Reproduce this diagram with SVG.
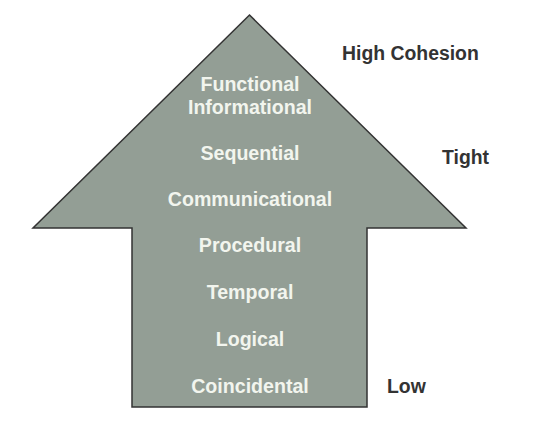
<svg xmlns="http://www.w3.org/2000/svg" width="546" height="436" viewBox="0 0 546 436">
<style>
.arrow{fill:#939e95;stroke:#333;stroke-width:1.5;stroke-linejoin:miter}
.in{font-family:"Liberation Sans",Arial,sans-serif;font-weight:bold;font-size:19.6px;fill:#f2f5ee;text-anchor:middle}
.out{font-family:"Liberation Sans",Arial,sans-serif;font-weight:bold;font-size:19.4px;fill:#333}
</style>
<rect width="546" height="436" fill="#fff"/>
<g id="arrow">
<polygon class="arrow" points="249.5,15 466,228 367,228 367,407 132,407 132,228 33,228"/>
</g>
<g id="levels">
<text class="in" x="250" y="91">Functional</text>
<text class="in" x="250" y="114">Informational</text>
<text class="in" x="250" y="160">Sequential</text>
<text class="in" x="250" y="206">Communicational</text>
<text class="in" x="250" y="252">Procedural</text>
<text class="in" x="250" y="299">Temporal</text>
<text class="in" x="250" y="346">Logical</text>
<text class="in" x="250" y="393">Coincidental</text>
</g>
<g id="labels">
<text class="out" x="342" y="60">High Cohesion</text>
<text class="out" x="442" y="164">Tight</text>
<text class="out" x="387" y="393">Low</text>
</g>
</svg>
